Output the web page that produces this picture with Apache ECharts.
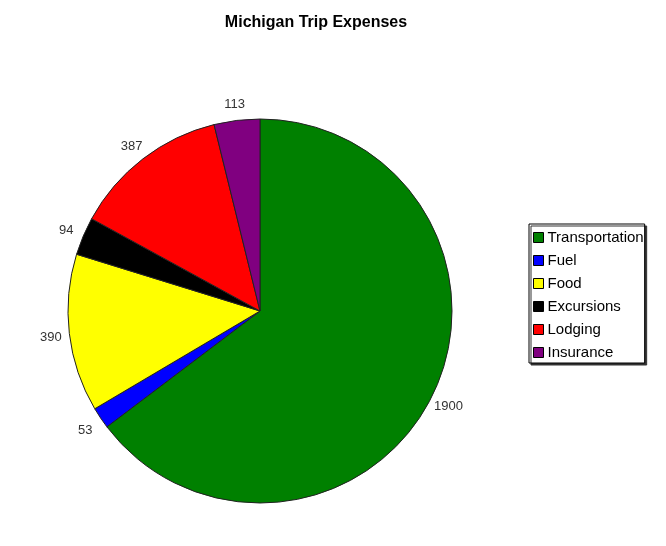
<!DOCTYPE html>
<html><head><meta charset="utf-8">
<script src="https://cdn.jsdelivr.net/npm/echarts@6/dist/echarts.min.js"></script>
<style>html,body{margin:0;padding:0;background:#fff}#c{width:666px;height:546px}</style>
</head><body><div id="c"></div>
<script>
const categories = ["Transportation","Fuel","Food","Excursions","Lodging","Insurance"];
const values = [1900, 53, 390, 94, 387, 113];
const colors = ["#008000","#0000ff","#ffff00","#000000","#ff0000","#800080"];

const pieData = categories.map((n, i) => ({ name: n, value: values[i] }));
const chart = echarts.init(document.getElementById('c'));
chart.setOption({
  animation: false,
  backgroundColor: '#fff',
  title: {
    text: 'Michigan Trip Expenses',
    left: 311, textAlign: 'center', top: 10,
    textStyle: { fontFamily: 'Liberation Sans', fontSize: 16, fontWeight: 'bold', color: '#000' }
  },
  legend: {
    orient: 'vertical',
    left: 529, top: 224,
    padding: [6, 1, 3, 4],
    itemGap: 8,
    itemWidth: 10, itemHeight: 10,
    icon: 'rect',
    backgroundColor: '#fff',
    borderColor: '#000', borderWidth: 1,
    shadowColor: '#333', shadowOffsetX: 2, shadowOffsetY: 2, shadowBlur: 0,
    itemStyle: { borderColor: '#000', borderWidth: 1 },
    textStyle: { fontFamily: 'Liberation Sans', fontSize: 15, color: '#000', padding: [0,0,0,-1] },
    data: categories
  },
  series: [{
    type: 'pie',
    center: [260, 311],
    radius: 192,
    startAngle: 90,
    clockwise: true,
    color: colors,
    itemStyle: { borderColor: '#222', borderWidth: 1 },
    label: { show: false },
    labelLine: { show: false },
    emphasis: { disabled: true },
    data: pieData
  }, {
    type: 'pie',
    center: [260, 311],
    radius: [192, 223],
    startAngle: 90,
    clockwise: true,
    silent: true,
    itemStyle: { color: 'rgba(0,0,0,0)', borderWidth: 0 },
    label: {
      show: true, position: 'inside',
      formatter: '{c}', offset: [0, 2],
      fontFamily: 'Liberation Sans', fontSize: 13, color: '#333'
    },
    labelLine: { show: false },
    emphasis: { disabled: true },
    data: pieData
  }]
});
</script></body></html>
